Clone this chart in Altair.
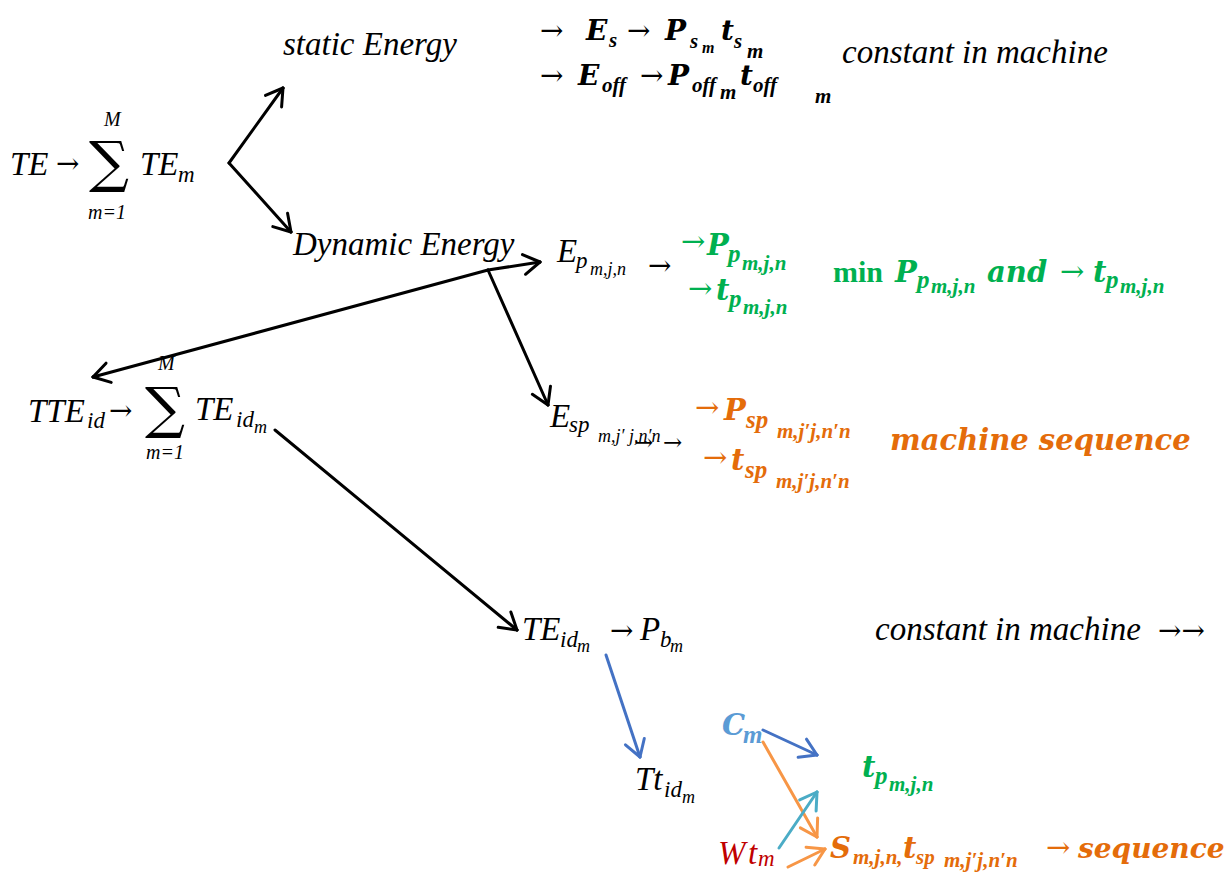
import math
import altair as alt
import pandas as pd

# ---------------- data: label pieces (text, left x, baseline y, level, style, colour) -----
# level: 0 main, 1 subscript, 2 sub-subscript, 3 sum sign, 4 sum limits,
#        5/6/7 large main / subscript / sub-subscript
static_labels = [
    ("static Energy", 283, 55, 0, "i", "k"),
    ("→", 540, 40, 0, "n", "k"), ("E", 586, 40, 0, "bi", "k"), ("s", 609, 47, 1, "bi", "k"),
    ("→", 627, 40, 0, "n", "k"), ("P", 665, 40, 0, "bi", "k"), ("s", 690, 48, 1, "bi", "k"),
    ("m", 702, 53, 2, "bi", "k"), ("t", 721, 40, 0, "bi", "k"), ("s", 734, 48, 1, "bi", "k"),
    ("m", 747, 58, 1, "bi", "k"),
    ("→", 540, 85, 0, "n", "k"), ("E", 578, 85, 0, "bi", "k"), ("off", 602, 92, 1, "bi", "k"),
    ("→", 640, 85, 0, "n", "k"), ("P", 668, 85, 0, "bi", "k"), ("off", 692, 92, 1, "bi", "k"),
    ("m", 720, 99, 1, "bi", "k"), ("t", 740, 85, 0, "bi", "k"), ("off", 753, 92, 1, "bi", "k"),
    ("m", 815, 103, 1, "bi", "k"),
    ("constant in machine", 842, 63, 0, "i", "k"),
]
total_labels = [
    ("TE", 10, 175, 0, "i", "k"), ("→", 56, 173, 0, "n", "k"), ("∑", 89, 181, 3, "sig", "k"),
    ("M", 104, 126, 4, "i", "k"), ("m=1", 88, 219, 4, "i", "k"),
    ("TE", 140, 175, 0, "i", "k"), ("m", 178, 182, 1, "i", "k"),
]
dynamic_labels = [
    ("Dynamic  Energy", 293, 255, 0, "i", "k"),
    ("E", 557, 262, 0, "i", "k"), ("p", 576, 268, 1, "i", "k"), ("m,j,n", 590, 275, 2, "i", "k"),
    ("→", 648, 275, 0, "n", "k"),
    ("→", 681, 251, 5, "n", "g"), ("P", 707, 255, 5, "bi", "g"), ("p", 728, 262, 6, "bi", "g"),
    ("m,j,n", 742, 270, 7, "bi", "g"),
    ("→", 688, 298, 5, "n", "g"), ("t", 716, 300, 5, "bi", "g"), ("p", 729, 307, 6, "bi", "g"),
    ("m,j,n", 743, 314, 7, "bi", "g"),
    ("min", 833, 282, 0, "b", "g"), ("P", 895, 282, 5, "bi", "g"), ("p", 917, 288, 6, "bi", "g"),
    ("m,j,n", 931, 293, 7, "bi", "g"), ("and", 987, 282, 5, "bi", "g"), ("→", 1060, 281, 5, "n", "g"),
    ("t", 1093, 282, 5, "bi", "g"), ("p", 1106, 288, 6, "bi", "g"), ("m,j,n", 1120, 293, 7, "bi", "g"),
]
idle_total_labels = [
    ("TTE", 28, 422, 0, "i", "k"), ("id", 87, 428, 1, "i", "k"), ("→", 109, 420, 0, "n", "k"),
    ("∑", 145, 427, 3, "sig", "k"), ("M", 158, 370, 4, "i", "k"), ("m=1", 146, 459, 4, "i", "k"),
    ("TE", 195, 420, 0, "i", "k"), ("id", 236, 427, 1, "i", "k"), ("m", 254, 433, 2, "i", "k"),
]
sequence_labels = [
    ("E", 550, 427, 0, "i", "k"), ("sp", 569, 432, 1, "i", "k"), ("m,j′ j,n′n", 598, 442, 2, "i", "k"),
    ("→", 634, 450, 2, "n", "k"), ("→", 663, 450, 2, "n", "k"),
    ("→", 695, 417, 5, "n", "o"), ("P", 724, 420, 5, "bi", "o"), ("sp", 746, 428, 6, "bi", "o"),
    ("m,j′j,n′n", 777, 438, 7, "bi", "o"),
    ("→", 703, 467, 5, "n", "o"), ("t", 731, 470, 5, "bi", "o"), ("sp", 745, 478, 6, "bi", "o"),
    ("m,j′j,n′n", 776, 488, 7, "bi", "o"),
    ("machine  sequence", 890, 450, 5, "bi", "o"),
]
idle_labels = [
    ("TE", 522, 640, 0, "i", "k"), ("id", 560, 647, 1, "i", "k"), ("m", 577, 652, 2, "i", "k"),
    ("→", 610, 640, 0, "n", "k"), ("P", 640, 640, 0, "i", "k"), ("b", 660, 647, 1, "i", "k"),
    ("m", 670, 652, 2, "i", "k"),
    ("constant  in machine", 875, 640, 0, "i", "k"), ("→→", 1158, 640, 0, "n", "k"),
    ("Tt", 635, 790, 0, "i", "k"), ("id", 664, 797, 1, "i", "k"), ("m", 682, 803, 2, "i", "k"),
    ("C", 722, 735, 5, "bi", "c"), ("m", 743, 743, 6, "bi", "c"),
    ("t", 862, 777, 5, "bi", "g"), ("p", 875, 784, 6, "bi", "g"), ("m,j,n", 889, 791, 7, "bi", "g"),
    ("W", 718, 864, 0, "i", "r"), ("t", 748, 864, 0, "i", "r"), ("m", 758, 866, 1, "i", "r"),
    ("S", 830, 858, 5, "bi", "o"), ("m,j,n,", 853, 864, 1, "bi", "o"), ("t", 903, 858, 5, "bi", "o"),
    ("sp", 916, 864, 1, "bi", "o"), ("m,j′j,n′n", 944, 867, 7, "bi", "o"),
    ("→", 1046, 857, 5, "n", "o"), ("sequence", 1078, 858, 0, "bi", "o"),
]

# arrows: (x1, y1, x2 = tip, y2 = tip, colour)
arrows = [
    (229, 163, 283, 88, "k"), (229, 163, 291, 232, "k"),
    (488, 270, 540, 262, "k"), (488, 270, 93, 377, "k"), (488, 270, 548, 405, "k"),
    (275, 430, 517, 630, "k"),
    (606, 655, 640, 757, "b"), (763, 730, 817, 755, "b"),
    (763, 742, 817, 837, "oa"), (788, 867, 825, 849, "oa"),
    (779, 848, 817, 792, "t"),
]

# ---------------- styles -------------------------------------------------------------------
COLORS = {"k": "#000000", "g": "#00B050", "o": "#E46C0A", "oa": "#F79646", "b": "#4472C4",
          "c": "#5B9BD5", "t": "#4BACC6", "r": "#C00000"}
SIZES = {
    "i": {0: 33, 1: 23, 2: 18, 4: 20},
    "bi": {0: 28, 1: 21, 2: 16, 5: 29, 6: 25, 7: 21},
    "b": {0: 30},
    "n": {0: 28, 2: 23, 5: 29},
    "sig": {3: 56},
}
FONTS = {
    "i": dict(font="Liberation Serif", fontStyle="italic", fontWeight="normal"),
    "bi0": dict(font="DejaVu Serif", fontStyle="italic", fontWeight="bold"),
    "bi": dict(font="Liberation Serif", fontStyle="italic", fontWeight="bold"),
    "b": dict(font="Liberation Serif", fontStyle="normal", fontWeight="bold"),
    "n": dict(font="DejaVu Serif", fontStyle="normal", fontWeight="normal"),
    "sig": dict(font="DejaVu Serif", fontStyle="normal", fontWeight="normal"),
}

all_labels = (static_labels + total_labels + dynamic_labels + idle_total_labels
              + sequence_labels + idle_labels)
lab = pd.DataFrame(all_labels, columns=["txt", "x", "y", "level", "style", "col"])
lab["fkey"] = [("bi0" if s == "bi" and lv in (0, 5) else s)
               for s, lv in zip(lab["style"], lab["level"])]
lab["size"] = [SIZES[s][lv] for s, lv in zip(lab["style"], lab["level"])]
lab["color"] = lab["col"].map(COLORS)

# arrow shafts and open heads
segs = []
for x1, y1, x2, y2, c in arrows:
    segs.append(dict(x=x1, y=y1, x2=x2, y2=y2, color=COLORS[c]))
    ang = math.atan2(y1 - y2, x1 - x2)
    for d in (0.55, -0.55):
        segs.append(dict(x=x2, y=y2, x2=x2 + 19 * math.cos(ang + d),
                         y2=y2 + 19 * math.sin(ang + d), color=COLORS[c]))
seg = pd.DataFrame(segs)

W, H = 1216, 864
xs = alt.Scale(domain=[8, 8 + W], nice=False, zero=False)
ys = alt.Scale(domain=[8 + H, 8], nice=False, zero=False)

rules = alt.Chart(seg).mark_rule(strokeWidth=3, strokeCap="round").encode(
    x=alt.X("x:Q", scale=xs, axis=None),
    y=alt.Y("y:Q", scale=ys, axis=None),
    x2="x2:Q", y2="y2:Q",
    color=alt.Color("color:N", scale=None),
)

layers = [rules]
for key, st in FONTS.items():
    sub = lab[lab["fkey"] == key]
    if len(sub) == 0:
        continue
    layers.append(
        alt.Chart(sub).mark_text(align="left", baseline="alphabetic", **st).encode(
            x=alt.X("x:Q", scale=xs, axis=None),
            y=alt.Y("y:Q", scale=ys, axis=None),
            text="txt:N",
            size=alt.Size("size:Q", scale=None),
            color=alt.Color("color:N", scale=None),
        )
    )

chart = alt.layer(*layers).properties(
    width=W, height=H, padding=0, autosize=alt.AutoSizeParams(type="none")
).configure_view(stroke=None)

chart.save("out.html", embed_options={"renderer": "svg", "actions": False})
